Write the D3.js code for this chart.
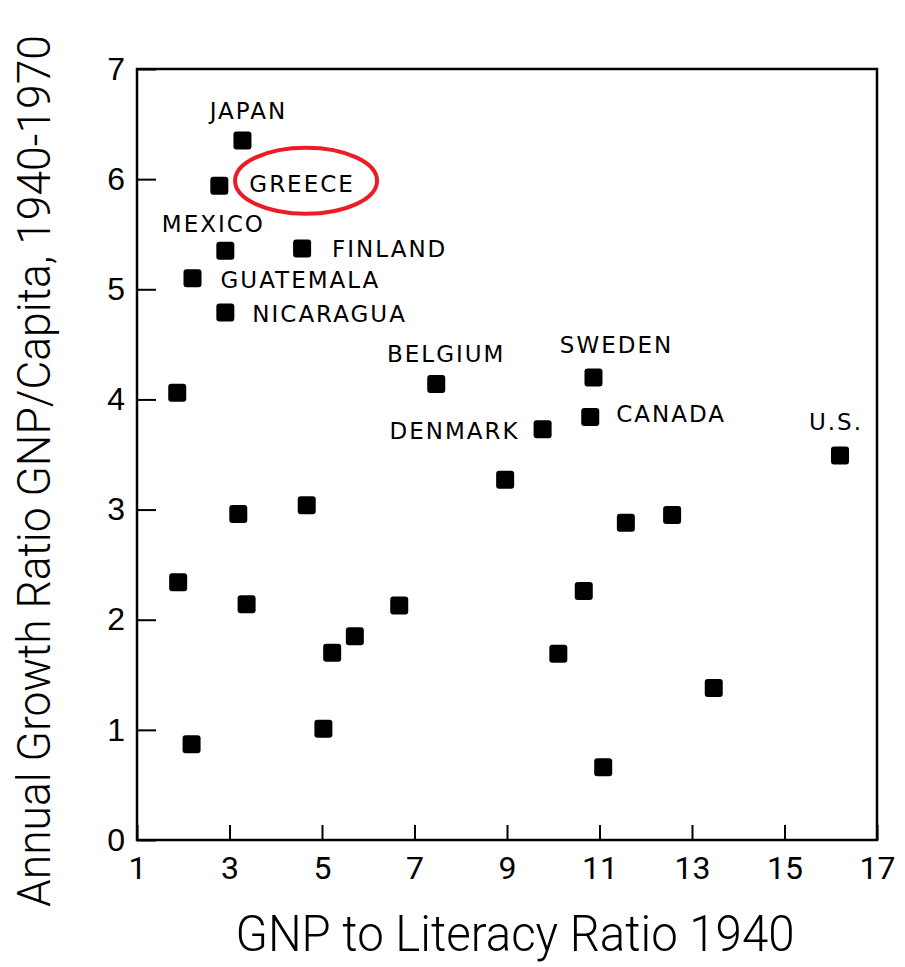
<!DOCTYPE html>
<html>
<head>
<meta charset="utf-8">
<script src="https://cdn.jsdelivr.net/npm/d3@7/dist/d3.min.js"></script>
<style>
  html, body { margin: 0; padding: 0; background: #fff; }
  svg { display: block; }
</style>
</head>
<body>
<svg id="chart" width="905" height="967"></svg>
<script>
// ---- data ----
const labels = ["JAPAN","GREECE","MEXICO","FINLAND","GUATEMALA","NICARAGUA","BELGIUM","SWEDEN","CANADA","DENMARK","U.S.",
  "","","","","","","","","","","","","","","","",""];
const gnpLiteracy = [3.28, 2.78, 2.91, 4.57, 2.20, 2.91, 7.47, 10.87, 10.80, 9.77, 16.20,
  1.87, 3.19, 4.67, 1.89, 3.37, 6.67, 5.71, 5.22, 5.03, 2.18, 8.96, 11.57, 12.57, 10.66, 10.11, 13.47, 11.08];
const growthRatio = [6.35, 5.94, 5.35, 5.37, 5.10, 4.79, 4.14, 4.20, 3.84, 3.73, 3.49,
  4.06, 2.96, 3.04, 2.34, 2.14, 2.13, 1.85, 1.70, 1.01, 0.87, 3.27, 2.88, 2.95, 2.26, 1.69, 1.38, 0.66];
const xTicks = [1, 3, 5, 7, 9, 11, 13, 15, 17];
const yTicks = [0, 1, 2, 3, 4, 5, 6, 7];
const xTitle = "GNP to Literacy Ratio 1940";
const yTitle = "Annual Growth Ratio GNP/Capita, 1940-1970";
const highlighted = "GREECE";

// ---- label layout (presentation) ----
const labelLayout = {
  "JAPAN":     {anchor: "middle", dx: 6,   dy: -22},
  "GREECE":    {anchor: "start",  dx: 30,  dy: 6},
  "MEXICO":    {anchor: "middle", dx: -12, dy: -19},
  "FINLAND":   {anchor: "start",  dx: 30,  dy: 8},
  "GUATEMALA": {anchor: "start",  dx: 28,  dy: 10},
  "NICARAGUA": {anchor: "start",  dx: 27,  dy: 10},
  "BELGIUM":   {anchor: "middle", dx: 10,  dy: -22},
  "SWEDEN":    {anchor: "middle", dx: 23,  dy: -24},
  "CANADA":    {anchor: "start",  dx: 26,  dy: 5},
  "DENMARK":   {anchor: "end",    dx: -23, dy: 10},
  "U.S.":      {anchor: "middle", dx: -4,  dy: -26}
};

const points = gnpLiteracy.map((x, i) => ({x, y: growthRatio[i], label: labels[i]}));

const svg = d3.select("#chart");
const x = d3.scaleLinear().domain([1, 17]).range([137, 877]);
const y = d3.scaleLinear().domain([0, 7]).range([840, 69]);

const numFont = "'Liberation Sans', Arial, sans-serif";
const titleFont = "Roboto, 'Liberation Sans', sans-serif";

// axes
const xAxis = svg.append("g").attr("transform", "translate(0,840)")
  .call(d3.axisBottom(x).tickValues(xTicks).tickSizeInner(-15).tickSizeOuter(0).tickPadding(16).tickFormat(d3.format("d")));
const yAxis = svg.append("g").attr("transform", "translate(137,0)")
  .call(d3.axisLeft(y).tickValues(yTicks).tickSizeInner(-19).tickSizeOuter(0).tickPadding(12).tickFormat(d3.format("d")));

[xAxis, yAxis].forEach(g => {
  g.select(".domain").remove();
  g.selectAll(".tick line").attr("stroke", "#000").attr("stroke-width", 2);
});
xAxis.selectAll(".tick text").attr("fill", "#000")
  .style("font-family", titleFont).style("font-size", "32px").style("font-weight", 400);
yAxis.selectAll(".tick text").attr("fill", "#000")
  .style("font-family", numFont).style("font-size", "32px");

// frame
svg.append("rect")
  .attr("x", x(1)).attr("y", y(7))
  .attr("width", x(17) - x(1)).attr("height", y(0) - y(7))
  .attr("fill", "none").attr("stroke", "#000").attr("stroke-width", 2.5);

// points
const s = 18;
svg.append("g").selectAll("rect").data(points).join("rect")
  .attr("x", d => x(d.x) - s / 2)
  .attr("y", d => y(d.y) - s / 2)
  .attr("width", s).attr("height", s)
  .attr("rx", 3).attr("ry", 3)
  .attr("fill", "#000");

// labels
const lab = svg.append("g").selectAll("text").data(points.filter(d => d.label)).join("text")
  .attr("x", d => x(d.x) + labelLayout[d.label].dx)
  .attr("y", d => y(d.y) + labelLayout[d.label].dy)
  .attr("text-anchor", d => labelLayout[d.label].anchor)
  .style("font-family", "'DejaVu Sans', sans-serif")
  .style("font-size", "23px")
  .style("letter-spacing", "2px")
  .attr("fill", "#000")
  .text(d => d.label);

// highlight ellipse around GREECE label
lab.filter(d => d.label === highlighted).each(function () {
  const b = this.getBBox();
  svg.append("ellipse")
    .attr("cx", b.x + b.width / 2 + 4)
    .attr("cy", b.y + b.height / 2 - 3)
    .attr("rx", 71)
    .attr("ry", 33)
    .attr("fill", "none")
    .attr("stroke", "#ec1c24")
    .attr("stroke-width", 4);
});

// axis titles
svg.append("text")
  .attr("x", 515).attr("y", 951)
  .attr("text-anchor", "middle")
  .attr("textLength", 559).attr("lengthAdjust", "spacingAndGlyphs")
  .style("font-family", titleFont).style("font-size", "50px").style("font-weight", 300)
  .attr("fill", "#000")
  .text(xTitle);

svg.append("text")
  .attr("transform", "translate(50,471) rotate(-90)")
  .attr("text-anchor", "middle")
  .attr("textLength", 872).attr("lengthAdjust", "spacingAndGlyphs")
  .style("font-family", titleFont).style("font-size", "46px").style("font-weight", 300)
  .attr("fill", "#000")
  .text(yTitle);
</script>
</body>
</html>
